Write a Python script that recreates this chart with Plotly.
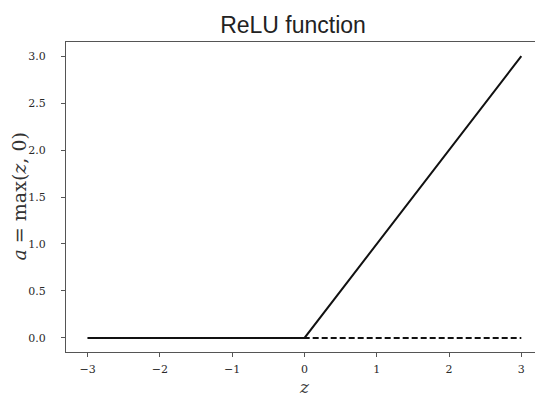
import plotly.graph_objects as go

z_values = [-3, 0, 3]
relu_values = [0, 0, 3]
zero_z = [-3, 3]
zero_values = [0, 0]
x_ticks = [-3, -2, -1, 0, 1, 2, 3]
x_tick_labels = ["\u22123", "\u22122", "\u22121", "0", "1", "2", "3"]
y_ticks = [0.0, 0.5, 1.0, 1.5, 2.0, 2.5, 3.0]
y_tick_labels = ["0.0", "0.5", "1.0", "1.5", "2.0", "2.5", "3.0"]

# page body has an 8px default margin; figure sized to fit the 543x397 window
W, H = 535, 389
L, R, T, B = 58, 0, 34, 45

fig = go.Figure()
fig.add_trace(go.Scatter(x=z_values, y=relu_values, mode="lines",
                         line=dict(color="#111111", width=2), showlegend=False))
fig.add_trace(go.Scatter(x=zero_z, y=zero_values, mode="lines",
                         line=dict(color="#111111", width=2, dash="6px,3px"), showlegend=False))

serif = "DejaVu Serif"
fig.update_layout(
    width=W, height=H,
    margin=dict(l=L, r=R, t=T, b=B),
    paper_bgcolor="white", plot_bgcolor="white",
    title=dict(text="ReLU function", x=285 / W, xanchor="center",
               y=1 - 17 / H, yanchor="middle",
               font=dict(family="Liberation Sans, Arial", size=23, color="#222222")),
)
fig.add_annotation(text="<i>a</i> = max(<i>z</i>, 0)", textangle=-90,
                   xref="paper", yref="paper",
                   x=(10.5 - L) / (W - L - R), y=0.5, xanchor="center", yanchor="middle",
                   showarrow=False, font=dict(family=serif, size=19, color="#333333"))
fig.update_xaxes(range=[-3.3, 3.3], tickvals=x_ticks, ticktext=x_tick_labels,
                 automargin=False,
                 showgrid=False, zeroline=False, showline=True, mirror=True,
                 linecolor="#555555", linewidth=1.2, ticks="outside", ticklen=4,
                 tickcolor="#555555", ticklabelstandoff=3,
                 tickfont=dict(family=serif, size=11, color="#2a2a2a"),
                 title=dict(text="<i>z</i>", standoff=6,
                            font=dict(family=serif, size=17, color="#444444")))
fig.update_yaxes(range=[-0.15, 3.15], tickvals=y_ticks, ticktext=y_tick_labels,
                 automargin=False,
                 showgrid=False, zeroline=False, showline=True, mirror=True,
                 linecolor="#555555", linewidth=1.2, ticks="outside", ticklen=4,
                 tickcolor="#555555", ticklabelstandoff=13,
                 tickfont=dict(family=serif, size=11, color="#2a2a2a"))

fig.write_html("out.html")
